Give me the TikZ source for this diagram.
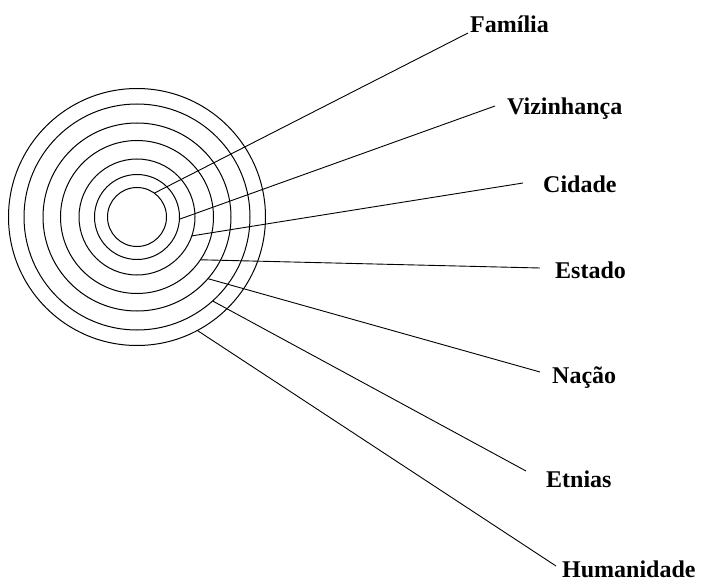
\documentclass[tikz,border=0pt]{standalone}
\usepackage{fontspec}
\setmainfont{Liberation Serif}
\usetikzlibrary{positioning}

\begin{document}
\begin{tikzpicture}[
  x=1pt, y=-1pt,
  ring/.style={draw, circle, line width=1pt, inner sep=0pt, outer sep=0pt},
  tag/.style={anchor=base west, inner sep=0pt, font=\fontsize{24}{28}\selectfont\bfseries},
  link/.style={line width=0.9pt},
]
\useasboundingbox (0,0) rectangle (702,583);

% concentric circles
\node[ring, minimum size=59pt]  (c1) at (137,217) {};
\node[ring, minimum size=85pt]  (c2) at (137,217) {};
\node[ring, minimum size=116pt] (c3) at (137,217) {};
\node[ring, minimum size=153pt] (c4) at (137,217) {};
\node[ring, minimum size=188pt] (c5) at (137,217) {};
\node[ring, minimum size=226pt] (c6) at (137,217) {};
\node[ring, minimum size=257pt] (c7) at (137,217) {};

% labels
\node[tag] (familia) at (470,33) {Família};
\node[tag] (vizinhanca) at (507,115) {Vizinhança};
\node[tag] (cidade) at (543,193) {Cidade};
\node[tag] (estado) at (555,278) {Estado};
\node[tag] (nacao) at (552,383) {Nação};
\node[tag] (etnias) at (546,487) {Etnias};
\node[tag] (humanidade) at (562,577) {Humanidade};

% line ends
\coordinate (e1) at (468,33);
\coordinate (e2) at (495,106);
\coordinate (e3) at (523,183);
\coordinate (e4) at (540,268);
\coordinate (e5) at (540,372);
\coordinate (e6) at (526,471);
\coordinate (e7) at (556,566);

\draw[link] (c1.54) -- (e1);
\draw[link] (c2.-3) -- (e2);
\draw[link] (c3.-19) -- (e3);
\draw[link] (c4.-34) -- (e4);
\draw[link] (c5.-41) -- (e5);
\draw[link] (c6.-48) -- (e6);
\draw[link] (c7.-62) -- (e7);
\end{tikzpicture}
\end{document}
